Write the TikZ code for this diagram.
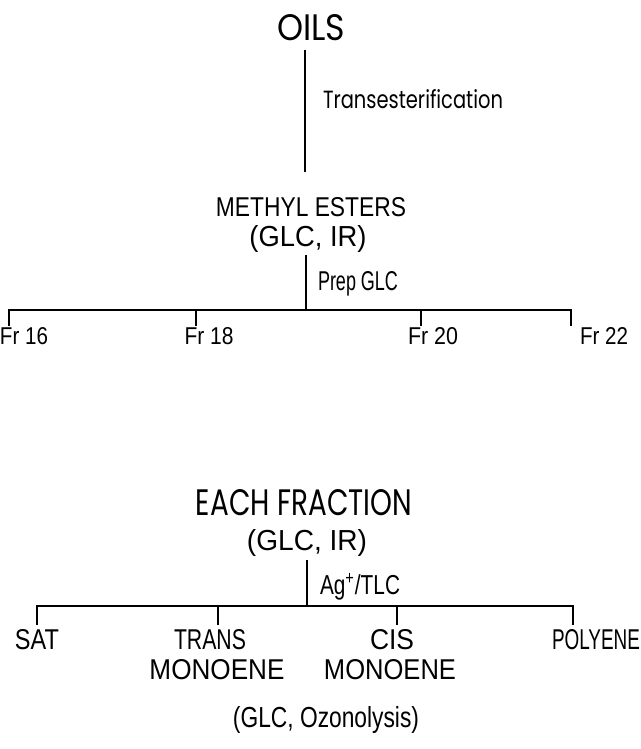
\documentclass[tikz,border=0pt]{standalone}
\usepackage{fontspec}
\setmainfont{Liberation Sans}
\newfontfamily\geo{Poppins}
\usepackage{graphicx}
\newcommand{\fitt}[3]{\resizebox{#1pt}{#2pt}{#3}}
\begin{document}
\begin{tikzpicture}[x=1pt,y=-1pt,
  lbl/.style={inner sep=0pt,outer sep=0pt},
  conn/.style={line width=1.8pt,line cap=butt,black}]
\useasboundingbox (0,0) rectangle (640,749);
\fill[white] (0,0) rectangle (640,749);
% texts
\node[lbl,anchor=base] (oils) at (311,41) {\fitt{68}{26}{\geo OILS}};
\node[lbl,anchor=base west] (trans) at (323,109) {\fitt{180}{19}{\geo Transesterification}};
\node[lbl,anchor=base] (methyl) at (311,216) {\fitt{190}{19}{METHYL ESTERS}};
\node[lbl,anchor=base] (glca) at (308,246) {\fitt{117}{21}{(GLC, IR)}};
\node[lbl,anchor=base west] (prep) at (318,290) {\fitt{80}{19}{Prep GLC}};
\node[lbl,anchor=base] (fr16) at (24,344) {\fitt{48}{17}{Fr 16}};
\node[lbl,anchor=base] (fr18) at (209,344) {\fitt{49}{17}{Fr 18}};
\node[lbl,anchor=base] (fr20) at (433,344) {\fitt{50}{17}{Fr 20}};
\node[lbl,anchor=base] (fr22) at (604,344) {\fitt{48}{17}{Fr 22}};
\node[lbl,anchor=base] (each) at (304,515) {\fitt{216}{26}{\geo EACH FRACTION}};
\node[lbl,anchor=base] (glcb) at (307,550) {\fitt{120}{21}{(GLC, IR)}};
\node[lbl,anchor=base west] (ag) at (320,594) {\fitt{80}{21}{Ag\textsuperscript{+}/TLC}};
\node[lbl,anchor=base] (sat) at (37,649) {\fitt{44}{20}{SAT}};
\node[lbl,anchor=base] (transm) at (210,649) {\fitt{72}{20}{TRANS}};
\node[lbl,anchor=base] (monoa) at (217,679) {\fitt{135}{20}{MONOENE}};
\node[lbl,anchor=base] (cis) at (392,649) {\fitt{44}{20}{CIS}};
\node[lbl,anchor=base] (monob) at (390,679) {\fitt{132}{20}{MONOENE}};
\node[lbl,anchor=base] (poly) at (596,649) {\fitt{88}{20}{POLYENE}};
\node[lbl,anchor=base] (ozon) at (326,727) {\fitt{186}{21}{(GLC, Ozonolysis)}};
% junction coordinates
\coordinate (a1) at (305,50);
\coordinate (a2) at (305,172);
\coordinate (b1) at (306,255);
\coordinate (b2) at (306,310);
\coordinate (h1l) at (9,310);
\coordinate (h1r) at (571,310);
\coordinate (t16) at (9,326);
\coordinate (t18) at (196,326);
\coordinate (t20) at (421,326);
\coordinate (t22) at (571,326);
\coordinate (c1) at (307,560);
\coordinate (c2) at (307,606);
\coordinate (h2l) at (37,606);
\coordinate (h2r) at (573,606);
\coordinate (tsat) at (37,625);
\coordinate (ttr) at (218,625);
\coordinate (tcis) at (397,625);
\coordinate (tpol) at (573,625);
% connectors
\draw[conn] (a1) -- (a2);
\draw[conn] (b1) -- (b2);
\draw[conn] (t16) -- (h1l) -- (h1r) -- (t22);
\draw[conn] (t18) -- (t18 |- h1l);
\draw[conn] (t20) -- (t20 |- h1l);
\draw[conn] (c1) -- (c2);
\draw[conn] (tsat) -- (h2l) -- (h2r) -- (tpol);
\draw[conn] (ttr) -- (ttr |- h2l);
\draw[conn] (tcis) -- (tcis |- h2l);
\end{tikzpicture}
\end{document}
